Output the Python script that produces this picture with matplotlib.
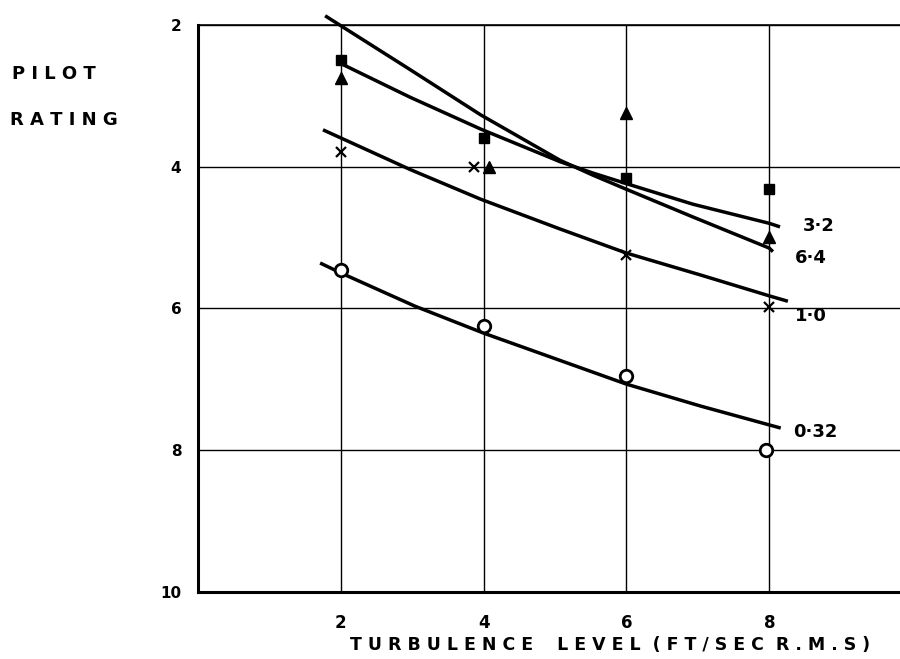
"""Pilot rating against turbulence level, with faired curves."""

import matplotlib.pyplot as plt

# measured points: turbulence level (ft/sec r.m.s) and pilot rating
sq_x = [2, 4, 6, 8]
sq_y = [2.49, 3.6, 4.16, 4.31]

tri_x = [2, 4.07, 6, 8]
tri_y = [2.75, 4.0, 3.24, 4.99]

cross_x = [2, 3.87, 6, 8]
cross_y = [3.79, 4.0, 5.25, 5.98]

circ_x = [2, 4, 6, 7.96]
circ_y = [5.46, 6.25, 6.95, 8.0]

# faired curves read along their length
c32_x = [1.95, 2.97, 3.96, 5.07, 5.53, 6.0, 6.93, 8.0, 8.15]
c32_y = [2.52, 3.02, 3.47, 3.93, 4.09, 4.24, 4.53, 4.80, 4.85]

c64_x = [1.78, 2.97, 3.96, 5.07, 5.53, 6.0, 6.93, 8.0, 8.05]
c64_y = [1.87, 2.63, 3.27, 3.91, 4.12, 4.32, 4.71, 5.15, 5.2]

c10_x = [1.75, 2.97, 3.96, 5.07, 6.0, 7.04, 8.02, 8.26]
c10_y = [3.48, 4.04, 4.46, 4.88, 5.22, 5.53, 5.83, 5.9]

c032_x = [1.71, 2.0, 3.04, 4.0, 6.0, 7.04, 8.16]
c032_y = [5.36, 5.5, 5.97, 6.35, 7.07, 7.38, 7.69]

curve_labels = ["3\u00b72", "6\u00b74", "1\u00b70", "0\u00b732"]
label_x = [8.47, 8.36, 8.36, 8.33]
label_y = [4.84, 5.29, 6.11, 7.74]

x_ticks = [2, 4, 6, 8]
y_ticks = [2, 4, 6, 8, 10]

plt.rcParams["font.family"] = "DejaVu Sans"
plt.rcParams["font.weight"] = "bold"

fig = plt.figure(figsize=(9, 6.59), dpi=100)
ax = fig.add_axes([0.22, 0.1021, 0.78, 0.860])

ax.set_xlim(0, 9.83)
ax.set_ylim(10, 2)

ax.set_xticks(x_ticks)
ax.set_xticklabels([str(v) for v in x_ticks], fontsize=12, fontweight="bold")
ax.set_yticks(y_ticks)
ax.set_yticklabels([str(v) for v in y_ticks], fontsize=11, fontweight="bold")
ax.tick_params(axis="x", length=0, pad=16)
ax.tick_params(axis="y", length=0, pad=12)

ax.grid(True, color="black", linewidth=1.0)
ax.set_axisbelow(True)

ax.spines["right"].set_visible(False)
ax.spines["left"].set_linewidth(2.2)
ax.spines["bottom"].set_linewidth(2.2)
ax.spines["top"].set_linewidth(1.2)

for cx, cy in [(c32_x, c32_y), (c64_x, c64_y), (c10_x, c10_y), (c032_x, c032_y)]:
    ax.plot(cx, cy, color="black", linewidth=2.5, solid_capstyle="butt",
            solid_joinstyle="round", clip_on=False, zorder=3)

ax.plot(sq_x, sq_y, "s", color="black", markersize=7, zorder=4)
ax.plot(tri_x, tri_y, "^", color="black", markersize=8.5, zorder=4)
ax.plot(cross_x, cross_y, "x", color="black", markersize=7,
        markeredgewidth=1.6, zorder=4)
ax.plot(circ_x, circ_y, "o", markerfacecolor="white", markeredgecolor="black",
        markersize=9, markeredgewidth=2, zorder=4)

for txt, lx, ly in zip(curve_labels, label_x, label_y):
    ax.text(lx, ly, txt, fontsize=13, fontweight="bold", ha="left", va="center")

fig.text(0.013, 0.888, "P I L O T", fontsize=13, fontweight="bold",
         ha="left", va="center")
fig.text(0.011, 0.818, "R A T I N G", fontsize=13, fontweight="bold",
         ha="left", va="center")
fig.text(0.678, 0.021,
         "T U R B U L E N C E    L E V E L  ( F T / S E C  R . M . S )",
         fontsize=12.5, fontweight="bold", ha="center", va="center")

fig.savefig("out.png", dpi=100)
